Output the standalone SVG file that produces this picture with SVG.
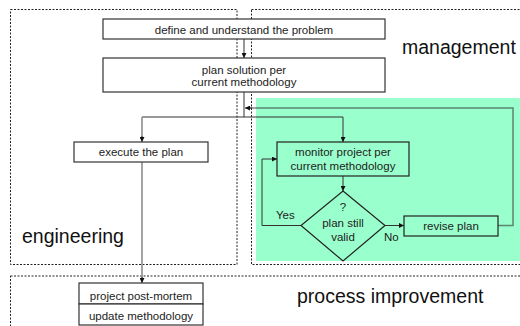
<svg xmlns="http://www.w3.org/2000/svg" width="520" height="326" viewBox="0 0 520 326">
  <style>
    .zone { fill: none; stroke: #222; stroke-width: 1; stroke-dasharray: 2 1.5; }
    .zone-label { font-family: "Liberation Sans", Arial, sans-serif; font-size: 19.5px; fill: #111; }
    .box { fill: #fff; stroke: #333; stroke-width: 1.2; }
    .box-g { fill: none; stroke: #222; stroke-width: 1.2; }
    .txt { font-family: "Liberation Sans", Arial, sans-serif; font-size: 11.5px; fill: #222; text-anchor: middle; }
    .lbl { font-family: "Liberation Sans", Arial, sans-serif; font-size: 11.5px; fill: #222; }
    .flow { fill: none; stroke: #333; stroke-width: 1; }
    .flow-gray { fill: none; stroke: #999; stroke-width: 1.8; }
    .flow-back { fill: none; stroke: #333; stroke-opacity: 0.6; stroke-width: 1.5; }
  </style>
  <defs>
    <marker id="arrow" viewBox="0 0 8 8" refX="8" refY="4" markerWidth="5" markerHeight="5" markerUnits="userSpaceOnUse" orient="auto">
      <path d="M0,0 L8,4 L0,8 z" fill="#111"/>
    </marker>
  </defs>

  <rect width="520" height="326" fill="#fff"/>

  <!-- swimlane zones -->
  <g id="zone-engineering">
    <rect class="zone" x="10.5" y="9.5" width="226.5" height="255"/>
    <text class="zone-label" x="22" y="243">engineering</text>
  </g>
  <g id="zone-management">
    <rect class="zone" x="251.5" y="9.5" width="280" height="255"/>
    <rect x="256" y="98" width="264" height="163" fill="#99ffcc"/>
    <text class="zone-label" x="402" y="54">management</text>
  </g>
  <g id="zone-process">
    <rect class="zone" x="10.5" y="276" width="520" height="60"/>
    <text class="zone-label" x="297" y="303">process improvement</text>
  </g>

  <!-- connectors -->
  <g id="connectors">
    <line class="flow" x1="244" y1="39" x2="244" y2="58" marker-end="url(#arrow)"/>
    <polyline class="flow" points="244,92 244,117"/>
    <polyline class="flow" points="142,117 343,117 343,142" marker-end="url(#arrow)"/>
    <line class="flow-gray" x1="142" y1="117" x2="142" y2="138"/>
    <line class="flow" x1="142" y1="136" x2="142" y2="142" marker-end="url(#arrow)"/>
    <line class="flow-gray" x1="142" y1="162" x2="142" y2="279"/>
    <line class="flow" x1="142" y1="277" x2="142" y2="283" marker-end="url(#arrow)"/>
    <line class="flow" x1="343" y1="176" x2="343" y2="191" marker-end="url(#arrow)"/>
    <polyline class="flow" points="301,225.5 262,225.5 262,159 277,159" marker-end="url(#arrow)"/>
    <line class="flow" x1="385" y1="225.5" x2="404" y2="225.5" marker-end="url(#arrow)"/>
    <polyline class="flow-back" points="498,225.5 513,225.5 513,108 250,108"/>
    <line class="flow" x1="252" y1="108" x2="245" y2="108" marker-end="url(#arrow)"/>
    <text class="lbl" x="276" y="219">Yes</text>
    <text class="lbl" x="384" y="240.5">No</text>
  </g>

  <!-- nodes -->
  <g id="define-problem">
    <rect class="box" x="103" y="19" width="282" height="20"/>
    <text class="txt" x="244" y="33.5">define and understand the problem</text>
  </g>
  <g id="plan-solution">
    <rect class="box" x="103" y="58" width="282" height="34"/>
    <text class="txt" x="244" y="73.5">plan solution per</text>
    <text class="txt" x="244" y="86">current methodology</text>
  </g>
  <g id="execute-plan">
    <rect class="box" x="74" y="142" width="134" height="20"/>
    <text class="txt" x="141" y="155.5">execute the plan</text>
  </g>
  <g id="monitor-project">
    <rect class="box-g" x="277" y="142" width="132" height="34"/>
    <text class="txt" x="343" y="155.5">monitor project per</text>
    <text class="txt" x="343" y="169.5">current methodology</text>
  </g>
  <g id="plan-valid">
    <polygon class="box-g" points="343,191 385,225.5 343,261 301,225.5"/>
    <text class="txt" x="343" y="210.5">?</text>
    <text class="txt" x="343" y="226.5">plan still</text>
    <text class="txt" x="343" y="240.5">valid</text>
  </g>
  <g id="revise-plan">
    <rect class="box-g" x="404" y="216" width="94" height="20"/>
    <text class="txt" x="451" y="229.5">revise plan</text>
  </g>
  <g id="post-mortem">
    <rect class="box" x="79" y="283" width="124" height="21" stroke-width="1.5"/>
    <text class="txt" x="141" y="299.5">project post-mortem</text>
  </g>
  <g id="update-methodology">
    <rect class="box" x="79" y="304" width="124" height="21" stroke-width="1.5"/>
    <text class="txt" x="141" y="319.5">update methodology</text>
  </g>
</svg>
